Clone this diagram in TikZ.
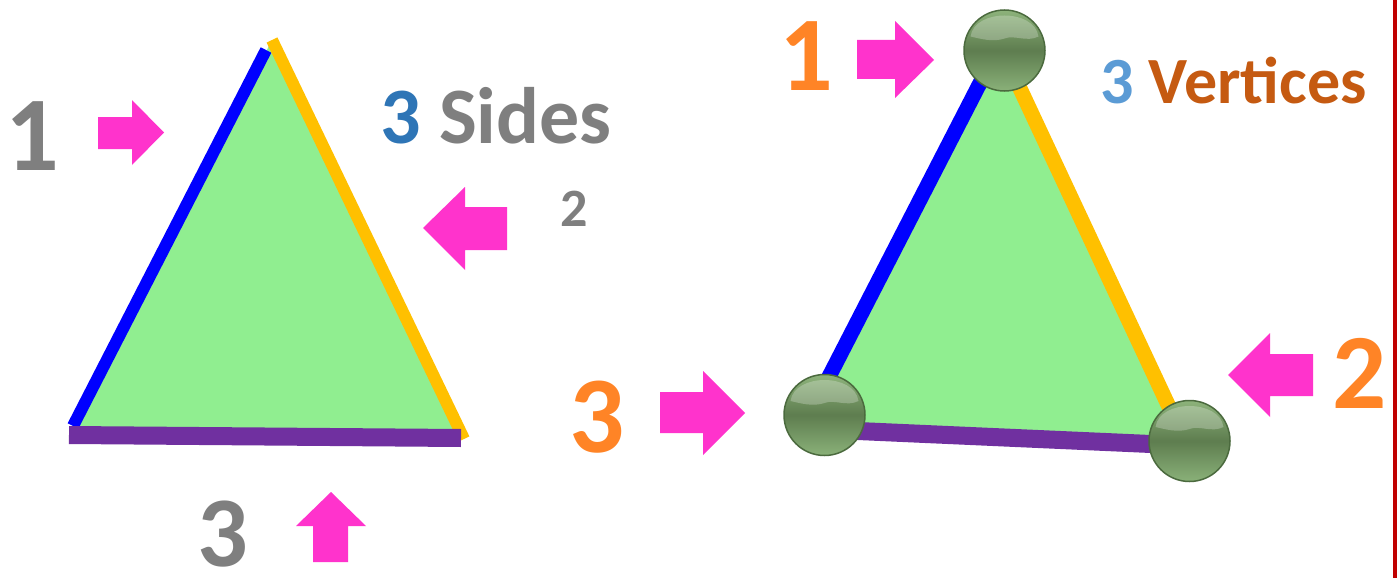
\documentclass[tikz,border=0pt]{standalone}
\usepackage{fontspec}
\setmainfont{Carlito}
\usetikzlibrary{calc}
\definecolor{pinkA}{HTML}{FF33CC}
\definecolor{grayT}{HTML}{7F7F7F}
\definecolor{blueT}{HTML}{2E75B6}
\definecolor{lblueT}{HTML}{5B9BD5}
\definecolor{orangeT}{HTML}{FF8426}
\definecolor{dorangeT}{HTML}{C55A11}
\definecolor{greenF}{HTML}{90EE90}
\definecolor{sideBlue}{HTML}{0000FF}
\definecolor{sideYellow}{HTML}{FFC000}
\definecolor{sidePurple}{HTML}{7030A0}
\definecolor{redLine}{HTML}{C00000}
\definecolor{ballTop}{HTML}{8DB37B}
\definecolor{ballMid}{HTML}{5E7D4F}
\definecolor{ballBot}{HTML}{8AB179}
\definecolor{ballEdge}{HTML}{4B6A3E}
\tikzset{
  pinkarrow/.style={fill=pinkA, draw=none},
  fillgreen/.style={fill=greenF, draw=none},
  sideB/.style={draw=sideBlue, line width=12pt, line cap=butt},
  sideY/.style={draw=sideYellow, line width=12pt, line cap=butt},
  sideP/.style={draw=sidePurple, line width=18pt, line cap=butt},
  lbl/.style={inner sep=0pt, anchor=base, font=\bfseries},
  ball/.style={circle, minimum size=81pt, inner sep=0pt, draw=ballEdge, line width=1.5pt,
    top color=ballTop, bottom color=ballBot, middle color=ballMid},
  gloss/.style={fill=white, opacity=0.25}
}
\newcommand{\glossball}[1]{%
  \path[gloss] ($(#1)+(-34,-14)$) .. controls ($(#1)+(-30,-42)$) and ($(#1)+(30,-42)$) .. ($(#1)+(34,-14)$)
    .. controls ($(#1)+(22,-8)$) and ($(#1)+(10,-16)$) .. ($(#1)+(0,-12)$)
    .. controls ($(#1)+(-12,-8)$) and ($(#1)+(-25,-12)$) .. ($(#1)+(-34,-14)$) -- cycle;}
\begin{document}
\begin{tikzpicture}[x=1pt,y=-1pt]
\useasboundingbox (0,0) rectangle (1398,578);
\fill[white] (0,0) rectangle (1398,578);

% ---------- left triangle ----------
\fill[fillgreen] (271,42) -- (70,432) -- (462,438) -- cycle;
\draw[sideB] (266,50) -- (73,426);
\draw[sideY] (272,40) -- (464,439);
\draw[sideP] (69,435) -- (461,438);

% arrows left
\fill[pinkarrow] (98,117) -- (132,117) -- (132,100) -- (164,132.5) -- (132,165) -- (132,149) -- (98,149) -- cycle;
\fill[pinkarrow] (507,207) -- (465,207) -- (465,187) -- (423,228) -- (465,270) -- (465,250) -- (507,250) -- cycle;
\fill[pinkarrow] (313,562) -- (313,526) -- (296,526) -- (331,492) -- (366,526) -- (348,526) -- (348,562) -- cycle;

% labels left
\node[lbl, text=grayT, font=\bfseries\fontsize{106}{106}\selectfont] (l1) at (32.5,170) {1};
\node[lbl, text=grayT, font=\bfseries\fontsize{80}{80}\selectfont] (sides) at (496,143) {{\color{blueT}3} Sides};
\node[lbl, text=grayT, font=\bfseries\fontsize{54}{54}\selectfont] (l2) at (574.5,226) {2};
\node[lbl, text=grayT, text depth=0pt, font=\bfseries\fontsize{100}{100}\selectfont] (l3) at (222.5,566) {3};

% ---------- right triangle ----------
\fill[fillgreen] (1000,46) -- (814,422) -- (1187,443) -- cycle;
\draw[sideB, line width=15pt] (997,50) -- (817,400);
\draw[sideY, line width=15pt] (1002,50) -- (1185,441);
\draw[sideP] (824,429.5) -- (1189,445.7);

\node[ball] (v1) at (1004.5,50.5) {};
\node[ball] (v3) at (824.5,415) {};
\node[ball] (v2) at (1189.5,441) {};
\glossball{v1}
\glossball{v3}
\glossball{v2}

% arrows right
\fill[pinkarrow] (857,40) -- (895,40) -- (895,21) -- (934,60) -- (895,98) -- (895,79) -- (857,79) -- cycle;
\fill[pinkarrow] (660,392) -- (703,392) -- (703,371) -- (745,413) -- (703,455) -- (703,433) -- (660,433) -- cycle;
\fill[pinkarrow] (1313,354) -- (1270,354) -- (1270,333) -- (1228,375) -- (1270,417) -- (1270,396) -- (1313,396) -- cycle;

% labels right
\node[lbl, text=orangeT, font=\bfseries\fontsize{106}{106}\selectfont] (r1) at (806,91) {1};
\node[lbl, text=dorangeT, font=\bfseries\fontsize{66}{66}\selectfont] (vert) at (1233.5,103) {{\color{lblueT}3} Vertices};
\node[lbl, text=orangeT, font=\bfseries\fontsize{109}{109}\selectfont] (r3) at (597.5,452) {3};
\node[lbl, text=orangeT, font=\bfseries\fontsize{107}{107}\selectfont] (r2) at (1360,408) {2};

% right border line
\draw[redLine, line width=4pt] (1395,0) -- (1395,578);
\end{tikzpicture}
\end{document}
